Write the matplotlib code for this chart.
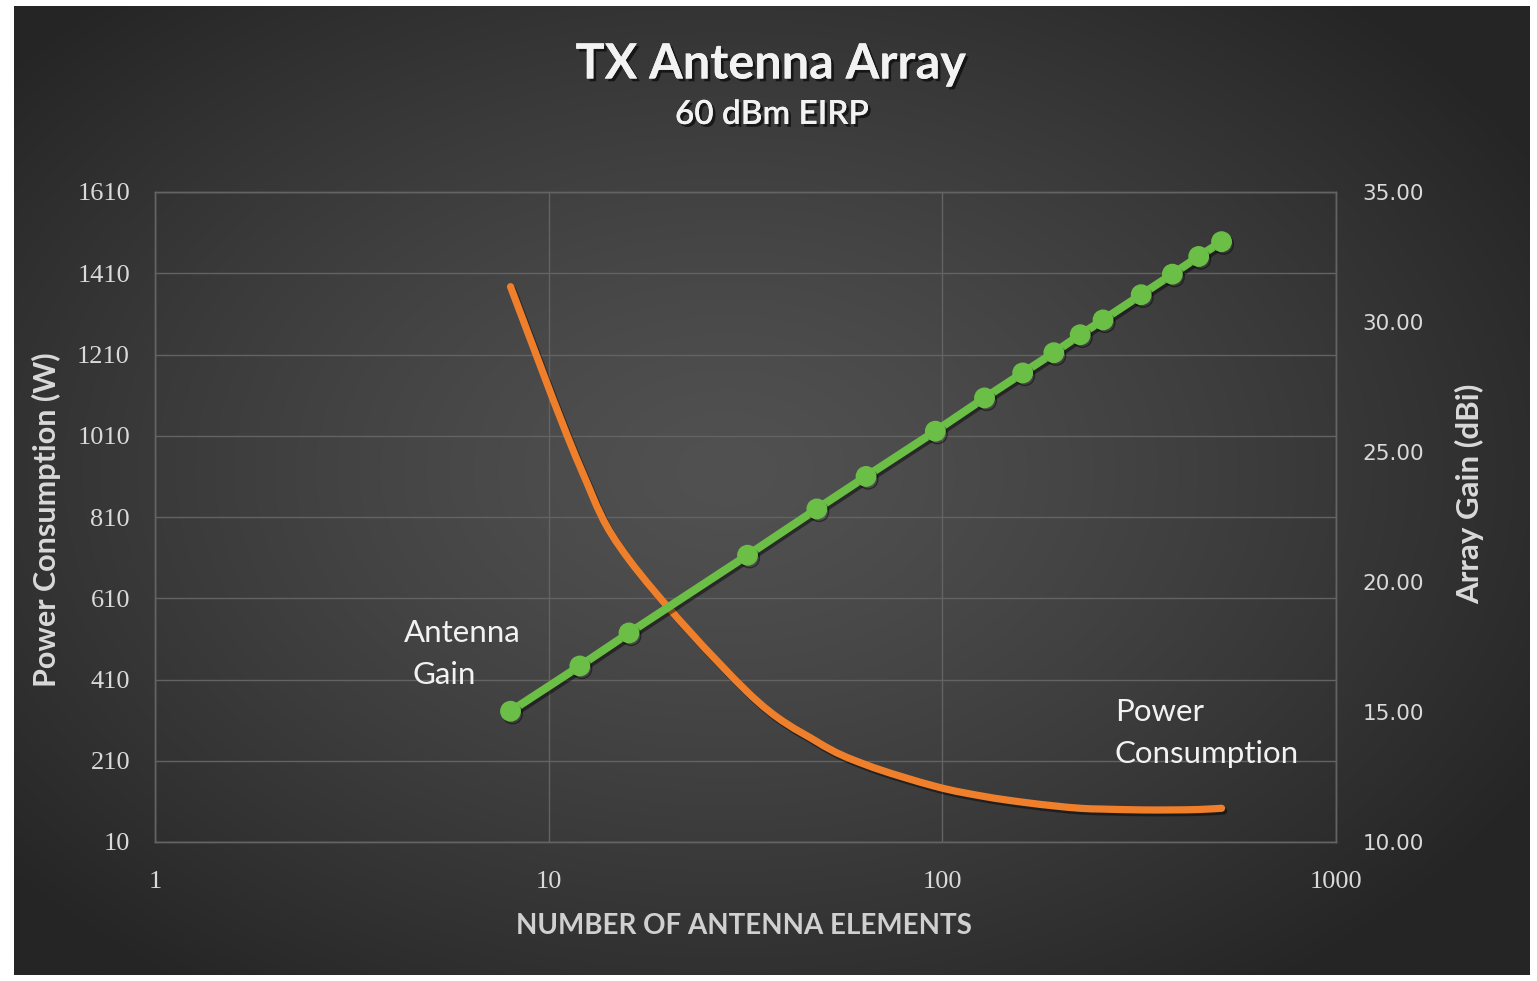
import numpy as np
import matplotlib
matplotlib.use('Agg')
import matplotlib.pyplot as plt
from matplotlib.path import Path
from matplotlib.patches import PathPatch
import matplotlib.patheffects as pe
from matplotlib.ticker import NullLocator, FixedLocator

# ---------------- data ----------------
elements = [8, 12, 16, 32, 48, 64, 96, 128, 160, 192, 224, 256, 320, 384, 448, 512]
array_gain_dbi = [15.03, 16.77, 18.04, 21.03, 22.81, 24.06, 25.80, 27.08,
                  28.04, 28.82, 29.51, 30.08, 31.05, 31.84, 32.52, 33.09]
power_w = [1377, 935, 705, 379, 257, 200, 147, 122,
           108, 99, 93, 91, 89, 89, 90, 93]

left_ticks = [10, 210, 410, 610, 810, 1010, 1210, 1410, 1610]
right_ticks = [10, 15, 20, 25, 30, 35]
x_ticks = [1, 10, 100, 1000]

title = "TX Antenna Array"
subtitle = "60 dBm EIRP"
xlabel = "NUMBER OF ANTENNA ELEMENTS"
ylabel_left = "Power Consumption (W)"
ylabel_right = "Array Gain (dBi)"

# ---------------- figure ----------------
W, H = 1537, 981
fig = plt.figure(figsize=(W / 100, H / 100), dpi=100, facecolor='white')

def fx(px):
    return px / W

def fy(py):
    return 1 - py / H

# radial dark gradient panel
bg = fig.add_axes([fx(14), fy(975), fx(1530) - fx(14), fy(6) - fy(975)])
ny, nx = 400, 640
yy, xx = np.mgrid[0:1:ny * 1j, 0:1:nx * 1j]
r = np.sqrt(((xx - 0.47) / 0.62) ** 2 + ((yy - 0.52) / 0.66) ** 2)
r = np.clip(r, 0, 1)
c0 = np.array([0x51, 0x51, 0x51]) / 255
c1 = np.array([0x25, 0x25, 0x25]) / 255
img = c0 + (c1 - c0) * (r[..., None] ** 1.3)
bg.imshow(img, aspect='auto', extent=[0, 1, 0, 1], origin='lower', interpolation='bilinear')
bg.axis('off')

# main axes
ax = fig.add_axes([fx(155), fy(842), fx(1336) - fx(155), fy(192) - fy(842)])
ax.patch.set_visible(False)
ax.set_xscale('log')
ax.set_xlim(1, 1000)
ax.set_ylim(10, 1610)
ax.xaxis.set_major_locator(FixedLocator(x_ticks))
ax.xaxis.set_minor_locator(NullLocator())
ax.set_xticklabels([str(t) for t in x_ticks])
ax.set_yticks(left_ticks)
ax.set_yticklabels([str(t) for t in left_ticks])
grid_c = '#636363'
ax.grid(True, which='major', color=grid_c, lw=1.0)
ax.set_axisbelow(True)
for s in ax.spines.values():
    s.set_color(grid_c)
    s.set_linewidth(1.0)
tick_c = '#dadada'
ax.tick_params(axis='y', length=0, pad=18, labelsize=19, labelcolor=tick_c)
ax.tick_params(axis='x', length=0, pad=21, labelsize=19, labelcolor=tick_c)
for lab in ax.get_yticklabels() + ax.get_xticklabels():
    lab.set_fontfamily('Liberation Serif')

# orange smoothed line (Excel-style) on left axis
lx = np.log10(np.array(elements, float))
py = np.array(power_w, float)
n = len(lx)
verts = [(lx[0], py[0])]
codes = [Path.MOVETO]
for i in range(n - 1):
    p0 = np.array([lx[max(i - 1, 0)], py[max(i - 1, 0)]])
    p1 = np.array([lx[i], py[i]])
    p2 = np.array([lx[i + 1], py[i + 1]])
    p3 = np.array([lx[min(i + 2, n - 1)], py[min(i + 2, n - 1)]])
    c1 = p1 + (p2 - p0) / 6.0
    c2 = p2 - (p3 - p1) / 6.0
    verts += [tuple(c1), tuple(c2), tuple(p2)]
    codes += [Path.CURVE4, Path.CURVE4, Path.CURVE4]
verts = np.array(verts)
verts[:, 0] = 10 ** verts[:, 0]
orange = '#f07f2c'
patch = PathPatch(Path(verts, codes), fill=False, edgecolor=orange, lw=5.2,
                  capstyle='round', joinstyle='round', transform=ax.transData, zorder=3)
patch.set_path_effects([pe.SimpleLineShadow(offset=(1.5, -2), shadow_color='black', alpha=0.45),
                        pe.Normal()])
ax.add_patch(patch)

# right axis: array gain
ax2 = ax.twinx()
ax2.set_ylim(10, 35)
ax2.set_yticks(right_ticks)
ax2.set_yticklabels([f"{t:.2f}" for t in right_ticks])
ax2.tick_params(axis='y', length=0, pad=19, labelsize=15.5, labelcolor=tick_c)
for s in ax2.spines.values():
    s.set_color(grid_c)
    s.set_linewidth(1.0)
green = '#6cbf46'
ln, = ax2.plot(elements, array_gain_dbi, color=green, lw=5.8, marker='o', ms=14,
               mfc=green, mec=green, solid_capstyle='round', zorder=4)
ln.set_path_effects([pe.SimpleLineShadow(offset=(1.5, -2), shadow_color='black', alpha=0.45),
                     pe.Normal()])

# axis titles
ax.text((46 - 155) / 1181, (842 - 520) / 650, ylabel_left, transform=ax.transAxes,
        rotation=90, ha='center', va='center', fontsize=22, fontweight='bold',
        color='#d9d9d9', family='Lato')
ax.text((1470 - 155) / 1181, (842 - 494) / 650, ylabel_right, transform=ax.transAxes,
        rotation=90, ha='center', va='center', fontsize=22.5, fontweight='bold',
        color='#d9d9d9', family='Lato')
ax.text(0.499, (842 - 926) / 650, xlabel, transform=ax.transAxes,
        ha='center', va='center', fontsize=20, fontweight='bold',
        color='#d0d0d0', family='Lato')

# title
shadow = [pe.withSimplePatchShadow(offset=(2, -2), shadow_rgbFace='black', alpha=0.6), pe.Normal()]
fig.text(fx(771), fy(64), title, ha='center', va='center', fontsize=35, fontweight='bold',
         color='#f2f2f2', family='Lato', path_effects=shadow)
fig.text(fx(772), fy(115), subtitle, ha='center', va='center', fontsize=24, fontweight='semibold',
         color='#f2f2f2', family='Lato', path_effects=shadow)

# in-chart labels
lab_c = '#f2f2f2'
fig.text(fx(404), fy(633), "Antenna", ha='left', va='center', fontsize=22.5, color=lab_c, family='Lato')
fig.text(fx(412), fy(675), "Gain", ha='left', va='center', fontsize=22.5, color=lab_c, family='Lato')
fig.text(fx(1115), fy(712), "Power", ha='left', va='center', fontsize=22.5, color=lab_c, family='Lato')
fig.text(fx(1115), fy(754), "Consumption", ha='left', va='center', fontsize=22.5, color=lab_c, family='Lato')

fig.savefig('out.png', dpi=100, facecolor='white')
